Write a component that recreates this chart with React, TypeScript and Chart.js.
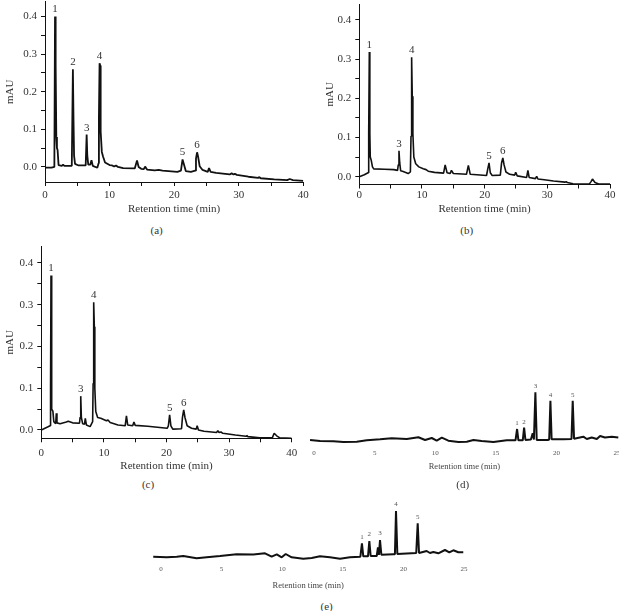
import React, { useEffect, useRef } from 'react';
import { Chart, registerables } from 'chart.js';
Chart.register(...registerables);

const SERIF = '"Liberation Serif", "DejaVu Serif", serif';

type Pt = [number, number];

// ---------- DATA ----------
const traceA: Pt[] = [
  [0, -0.002], [1.0, -0.002], [1.45, 0.0], [1.55, 0.40], [1.62, 0.15], [1.68, 0.27], [1.75, 0.08],
  [1.85, 0.05], [1.95, 0.045], [2.1, 0.005], [2.6, 0.003], [2.8, 0.006], [3.0, 0.003], [4.15, 0.003],
  [4.32, 0.26], [4.42, 0.12], [4.5, 0.03], [4.65, 0.008], [5.2, 0.004], [6.3, 0.004], [6.45, 0.086],
  [6.55, 0.03], [6.7, 0.006], [7.0, 0.006], [7.2, 0.018], [7.4, 0.003], [8.1, -0.002], [8.3, 0.01],
  [8.35, 0.132], [8.45, 0.276], [8.55, 0.27], [8.62, 0.094], [8.8, 0.04], [9.0, 0.027], [9.3, 0.012],
  [10.0, 0.005], [10.4, 0.004], [10.7, 0.001], [11.0, 0.004], [11.3, 0.0], [12.1, -0.003], [13.9, -0.004],
  [14.25, 0.017], [14.5, 0.0], [14.9, -0.005], [15.3, -0.006], [15.5, 0.001], [15.8, -0.007], [17.0, -0.009],
  [17.6, -0.008], [18.2, -0.010], [20.5, -0.013], [21.05, -0.010], [21.3, 0.020], [21.5, 0.008], [21.8, -0.011],
  [22.6, -0.013], [23.25, -0.010], [23.38, 0.022], [23.55, 0.039], [23.7, 0.028], [23.95, 0.002], [24.4, -0.008],
  [25.2, -0.013], [25.4, -0.003], [25.65, -0.013], [26.5, -0.016], [28.6, -0.020], [28.9, -0.017], [29.2, -0.020],
  [29.4, -0.018], [29.7, -0.021], [31.5, -0.026], [33.0, -0.029], [33.2, -0.027], [33.4, -0.030], [35.5, -0.033],
  [37.5, -0.035], [37.9, -0.032], [38.4, -0.035], [40, -0.037],
];
const peakLabelsA = ['1', '2', '3', '4', '5', '6'];
const peakTimesA = [1.55, 4.32, 6.45, 8.45, 21.3, 23.55];

const traceB: Pt[] = [
  [0, 0.0], [0.8, 0.005], [1.4, 0.01], [1.5, 0.11], [1.6, 0.318], [1.68, 0.11], [1.75, 0.05], [1.9, 0.042],
  [2.1, 0.025], [2.3, 0.02], [4.0, 0.019], [5.5, 0.018], [6.1, 0.016], [6.22, 0.03], [6.33, 0.066], [6.45, 0.035],
  [6.6, 0.015], [7.0, 0.013], [7.8, 0.008], [8.15, 0.012], [8.25, 0.103], [8.35, 0.305], [8.45, 0.205], [8.55, 0.11],
  [8.7, 0.05], [9.0, 0.033], [9.5, 0.025], [10.2, 0.02], [10.65, 0.018], [11.0, 0.014], [12.0, 0.011], [13.45, 0.009],
  [13.7, 0.030], [14.0, 0.010], [14.5, 0.008], [14.7, 0.016], [15.0, 0.008], [17.1, 0.006], [17.4, 0.029], [17.7, 0.006],
  [20.3, 0.003], [20.5, 0.02], [20.7, 0.035], [20.9, 0.01], [21.2, 0.003], [22.5, 0.004], [22.7, 0.035], [22.9, 0.048],
  [23.1, 0.03], [23.4, 0.012], [24.0, 0.006], [24.8, 0.004], [24.95, 0.011], [25.2, 0.002], [26.7, -0.002], [26.9, 0.016],
  [27.1, -0.002], [28.1, -0.005], [28.3, 0.001], [28.5, -0.006], [29.5, -0.008], [31.0, -0.011], [32.8, -0.014],
  [33.0, -0.013], [33.2, -0.015], [34.1, -0.018], [36.7, -0.019], [37.0, -0.012], [37.2, -0.006], [37.6, -0.015],
  [38.2, -0.019], [40, -0.019],
];
const peakLabelsB = ['1', '3', '4', '5', '6'];
const peakTimesB = [1.6, 6.33, 8.35, 20.7, 22.9];

const traceC: Pt[] = [
  [0, 0.0], [1.0, 0.007], [1.4, 0.01], [1.48, 0.108], [1.55, 0.37], [1.62, 0.108], [1.7, 0.05], [1.85, 0.045],
  [2.0, 0.02], [2.3, 0.015], [2.4, 0.04], [2.5, 0.017], [3.0, 0.015], [4.0, 0.019], [4.3, 0.021], [5.0, 0.017],
  [6.1, 0.016], [6.2, 0.03], [6.3, 0.081], [6.4, 0.03], [6.6, 0.015], [6.9, 0.014], [7.03, 0.028], [7.2, 0.012],
  [7.8, 0.008], [8.2, 0.02], [8.28, 0.111], [8.37, 0.306], [8.47, 0.247], [8.55, 0.1], [8.7, 0.044], [9.0, 0.03],
  [9.5, 0.028], [10.4, 0.022], [10.65, 0.024], [11.0, 0.018], [12.25, 0.012], [13.4, 0.01], [13.6, 0.034],
  [13.8, 0.012], [14.6, 0.01], [14.8, 0.019], [15.0, 0.011], [17.0, 0.009], [20.1, 0.004], [20.3, 0.01],
  [20.5, 0.036], [20.7, 0.01], [21.0, 0.002], [22.4, 0.003], [22.55, 0.03], [22.75, 0.048], [22.95, 0.03],
  [23.3, 0.01], [24.0, 0.004], [24.75, 0.002], [24.9, 0.01], [25.1, 0.0], [26.0, -0.003], [28.0, -0.006],
  [28.2, -0.0015], [28.4, -0.006], [28.7, -0.005], [29.0, -0.008], [31.0, -0.012], [32.7, -0.015], [32.8, -0.013],
  [33.0, -0.016], [34.9, -0.019], [36.9, -0.019], [37.2, -0.008], [37.6, -0.014], [38.1, -0.019], [40, -0.02],
];
const peakLabelsC = ['1', '3', '4', '5', '6'];
const peakTimesC = [1.55, 6.3, 8.37, 20.5, 22.75];

const traceD: Pt[] = [
  [-0.33, 0.002], [0.5, 0.0], [1.6, -0.0006], [2.42, -0.002], [3.52, -0.0014], [4.35, 0.0014], [5.45, 0.0034],
  [6.41, 0.0054], [7.65, 0.004], [8.61, 0.0074], [9.16, 0.002], [9.71, 0.006], [10.12, 0.0006], [10.54, 0.0066],
  [11.08, 0.0006], [11.91, -0.002], [12.6, -0.0014], [13.15, 0.002], [13.83, 0.0], [14.8, -0.002], [15.9, 0.0014],
  [16.62, 0.0014], [16.75, 0.024], [16.86, 0.0014], [17.22, 0.0014], [17.33, 0.0266], [17.44, 0.002],
  [17.89, 0.003], [18.04, 0.0154], [18.14, 0.003], [18.26, 0.0974], [18.37, 0.002], [19.29, 0.002], [19.4, 0.003],
  [19.5, 0.0806], [19.6, 0.0034], [20.57, 0.0034], [21.24, 0.004], [21.34, 0.0806], [21.45, 0.0046],
  [22.22, 0.0086], [22.5, 0.004], [22.91, 0.007], [23.33, 0.004], [23.6, 0.01], [24.0, 0.007], [24.56, 0.0086],
  [25.1, 0.007],
];
const peakLabelsD = ['1', '2', '3', '4', '5'];
const peakTimesD = [16.75, 17.33, 18.26, 19.5, 21.34];

const traceE: Pt[] = [
  [-0.64, -0.0034], [0.47, -0.0046], [1.3, -0.0034], [1.84, -0.002], [2.94, -0.0066], [3.77, -0.0046],
  [4.87, -0.002], [6.24, 0.0014], [7.62, 0.0008], [8.58, 0.0034], [9.13, -0.0034], [9.55, 0.0014],
  [9.96, -0.0046], [10.29, 0.002], [10.78, -0.0046], [11.74, -0.0074], [12.43, -0.006], [13.12, -0.0026],
  [13.94, -0.0046], [14.77, -0.0074], [15.59, -0.0046], [16.45, -0.0034], [16.58, 0.0234], [16.69, -0.0026],
  [17.08, -0.0026], [17.19, 0.028], [17.3, -0.002], [17.8, -0.002], [17.9, 0.0154], [17.98, 0.0], [18.07, 0.03],
  [18.18, 0.0006], [19.17, 0.0014], [19.3, 0.0014], [19.39, 0.088], [19.5, 0.002], [20.27, 0.003],
  [21.06, 0.004], [21.18, 0.0634], [21.29, 0.004], [21.92, 0.008], [22.19, 0.004], [22.47, 0.006],
  [22.88, 0.0034], [23.43, 0.01], [23.79, 0.0054], [24.12, 0.0094], [24.53, 0.0054], [24.94, 0.0054],
];
const peakLabelsE = ['1', '2', '3', '4', '5'];
const peakTimesE = [16.58, 17.19, 18.07, 19.39, 21.18];

const xTicks40 = [0, 5, 10, 15, 20, 25, 30, 35, 40];
const xTicks25 = [0, 5, 10, 15, 20, 25];
const yTicksMAU = [0, 0.05, 0.1, 0.15, 0.2, 0.25, 0.3, 0.35, 0.4];

// ---------- PANELS ----------
interface PanelSpec {
  kind: 'full' | 'bare';
  trace: Pt[];
  peakLabels: string[];
  peakTimes: number[];
  xMin: number; xMax: number; yMin: number; yMax: number;
  xTicks: number[]; yTicks: number[];
  left: number; top: number; width: number; height: number;
  pad: { left: number; right: number; top: number; bottom: number };
  yAxisWidth: number; xAxisHeight: number;
  xTickPad: number; xTitlePad: number; yTitlePad: number;
  tickFont: number; titleFont: number; peakFont: number; peakOffset: number;
  lineWidth: number;
}

const panels: PanelSpec[] = [
  {
    kind: 'full', trace: traceA, peakLabels: peakLabelsA, peakTimes: peakTimesA,
    xMin: 0, xMax: 40, yMin: -0.04, yMax: 0.44, xTicks: xTicks40, yTicks: yTicksMAU,
    left: 0, top: 0, width: 310, height: 220,
    pad: { left: 0, right: 6.7, top: 1.5, bottom: 0 },
    yAxisWidth: 45, xAxisHeight: 38, xTickPad: 2.4, xTitlePad: 4.4, yTitlePad: 3.4,
    tickFont: 11, titleFont: 11, peakFont: 11, peakOffset: 7, lineWidth: 1.8,
  },
  {
    kind: 'full', trace: traceB, peakLabels: peakLabelsB, peakTimes: peakTimesB,
    xMin: 0, xMax: 40, yMin: -0.02, yMax: 0.44, xTicks: xTicks40, yTicks: yTicksMAU,
    left: 310, top: 0, width: 309, height: 220,
    pad: { left: 0, right: 9, top: 4.3, bottom: 0 },
    yAxisWidth: 49.3, xAxisHeight: 35.5, xTickPad: 0, xTitlePad: 4.1, yTitlePad: 13.4,
    tickFont: 11, titleFont: 11, peakFont: 11, peakOffset: 7, lineWidth: 1.6,
  },
  {
    kind: 'full', trace: traceC, peakLabels: peakLabelsC, peakTimes: peakTimesC,
    xMin: 0, xMax: 40, yMin: -0.02, yMax: 0.44, xTicks: xTicks40, yTicks: yTicksMAU,
    left: 0, top: 240, width: 310, height: 236,
    pad: { left: 0, right: 18.3, top: 6.3, bottom: 0 },
    yAxisWidth: 41.3, xAxisHeight: 37.7, xTickPad: 3.8, xTitlePad: 3.4, yTitlePad: 3.4,
    tickFont: 11, titleFont: 11, peakFont: 11, peakOffset: 7, lineWidth: 1.6,
  },
  {
    kind: 'bare', trace: traceD, peakLabels: peakLabelsD, peakTimes: peakTimesD,
    xMin: -0.4, xMax: 25.2, yMin: -0.008, yMax: 0.112, xTicks: xTicks25, yTicks: [],
    left: 300, top: 370, width: 325, height: 105,
    pad: { left: 9.2, right: 5.5, top: 15, bottom: 0 },
    yAxisWidth: 0, xAxisHeight: 30, xTickPad: 3.8, xTitlePad: 3.2, yTitlePad: 0,
    tickFont: 7, titleFont: 8.5, peakFont: 7, peakOffset: 6, lineWidth: 2,
  },
  {
    kind: 'bare', trace: traceE, peakLabels: peakLabelsE, peakTimes: peakTimesE,
    xMin: -0.7, xMax: 25.0, yMin: -0.01, yMax: 0.1, xTicks: xTicks25, yTicks: [],
    left: 140, top: 495, width: 340, height: 100,
    pad: { left: 12.5, right: 16, top: 10, bottom: 0 },
    yAxisWidth: 0, xAxisHeight: 35, xTickPad: 4.8, xTitlePad: 3.9, yTitlePad: 0,
    tickFont: 7, titleFont: 8.5, peakFont: 7, peakOffset: 6.5, lineWidth: 2,
  },
];

const captions = [
  { text: '(a)', x: 156.7, y: 230 },
  { text: '(b)', x: 466.7, y: 230 },
  { text: '(c)', x: 148, y: 484 },
  { text: '(d)', x: 462.7, y: 484 },
  { text: '(e)', x: 326.7, y: 605.7 },
];

function buildConfig(s: PanelSpec): any {
  const full = s.kind === 'full';
  const tickColor = full ? '#333' : '#555';
  const peakPlugin = {
    id: 'peakLabels',
    afterDatasetsDraw(chart: any) {
      const { ctx } = chart;
      const xs = chart.scales.x;
      const ys = chart.scales.y;
      ctx.save();
      ctx.font = `${s.peakFont}px ${SERIF}`;
      ctx.fillStyle = full ? '#333' : '#555';
      ctx.textAlign = 'center';
      ctx.textBaseline = 'middle';
      s.peakLabels.forEach((txt, i) => {
        const t = s.peakTimes[i];
        const near = s.trace.filter((p) => Math.abs(p[0] - t) < 0.06).map((p) => p[1]);
        const apex = Math.max(...near);
        ctx.fillText(txt, xs.getPixelForValue(t), ys.getPixelForValue(apex) - s.peakOffset);
      });
      ctx.restore();
    },
  };

  const xScale: any = {
    type: 'linear',
    min: s.xMin,
    max: s.xMax,
    afterBuildTicks: (sc: any) => { sc.ticks = s.xTicks.map((v) => ({ value: v })); },
    afterFit: (sc: any) => { sc.height = s.xAxisHeight; sc.paddingLeft = 0; sc.paddingRight = 0; },
    ticks: {
      autoSkip: false, maxRotation: 0, minRotation: 0,
      font: { family: SERIF, size: s.tickFont }, color: tickColor, padding: s.xTickPad,
      callback: (v: number) => (full ? (v % 10 === 0 ? String(v) : '') : String(v)),
    },
    grid: full
      ? { display: true, drawOnChartArea: false, drawTicks: true, tickLength: 4, color: '#111', lineWidth: 1 }
      : { display: false, drawTicks: false },
    border: full ? { display: true, color: '#111', width: 1 } : { display: false },
    title: {
      display: true, text: 'Retention time (min)',
      font: { family: SERIF, size: s.titleFont }, color: full ? '#333' : '#444',
      padding: { top: 0, bottom: s.xTitlePad },
    },
  };

  const yScale: any = full
    ? {
        type: 'linear',
        min: s.yMin,
        max: s.yMax,
        afterBuildTicks: (sc: any) => { sc.ticks = s.yTicks.map((v) => ({ value: v })); },
        afterFit: (sc: any) => { sc.width = s.yAxisWidth; sc.paddingTop = 0; sc.paddingBottom = 0; },
        ticks: {
          font: { family: SERIF, size: s.tickFont }, color: tickColor, padding: 4,
          callback: (v: number) => (Math.round(v * 100) % 10 === 0 ? v.toFixed(1) : ''),
        },
        grid: { display: true, drawOnChartArea: false, drawTicks: true, tickLength: 4, color: '#111', lineWidth: 1 },
        border: { display: true, color: '#111', width: 1 },
        title: {
          display: true, text: 'mAU', font: { family: SERIF, size: s.titleFont }, color: '#333',
          padding: { top: s.yTitlePad, bottom: 0 },
        },
      }
    : { type: 'linear', display: false, min: s.yMin, max: s.yMax };

  return {
    type: 'line',
    data: {
      datasets: [
        {
          data: s.trace.map(([x, y]) => ({ x, y })),
          borderColor: '#111',
          borderWidth: s.lineWidth,
          pointRadius: 0,
          fill: false,
          tension: 0,
          borderJoinStyle: 'bevel',
        },
      ],
    },
    options: {
      responsive: false,
      animation: false,
      devicePixelRatio: 1,
      events: [],
      layout: { padding: s.pad },
      plugins: { legend: { display: false }, tooltip: { enabled: false }, title: { display: false } },
      scales: { x: xScale, y: yScale },
    },
    plugins: [peakPlugin],
  };
}

function Panel({ spec }: { spec: PanelSpec }) {
  const ref = useRef<HTMLCanvasElement>(null);
  useEffect(() => {
    if (!ref.current) return;
    const chart = new Chart(ref.current, buildConfig(spec));
    return () => chart.destroy();
  }, [spec]);
  return (
    <canvas
      ref={ref}
      width={spec.width}
      height={spec.height}
      style={{ position: 'absolute', left: spec.left, top: spec.top, width: spec.width, height: spec.height }}
    />
  );
}

export default function App() {
  return (
    <div
      style={{
        position: 'fixed', left: 0, top: 0, width: 619, height: 611,
        overflow: 'hidden', background: '#fff',
      }}
    >
      {panels.map((p, i) => (
        <Panel key={i} spec={p} />
      ))}
      {captions.map((c) => (
        <div
          key={c.text}
          style={{
            position: 'absolute', left: c.x, top: c.y, transform: 'translate(-50%, -50%)',
            fontFamily: SERIF, fontSize: 11, color: '#333', whiteSpace: 'nowrap', lineHeight: 1,
          }}
        >
          {c.text}
        </div>
      ))}
    </div>
  );
}
